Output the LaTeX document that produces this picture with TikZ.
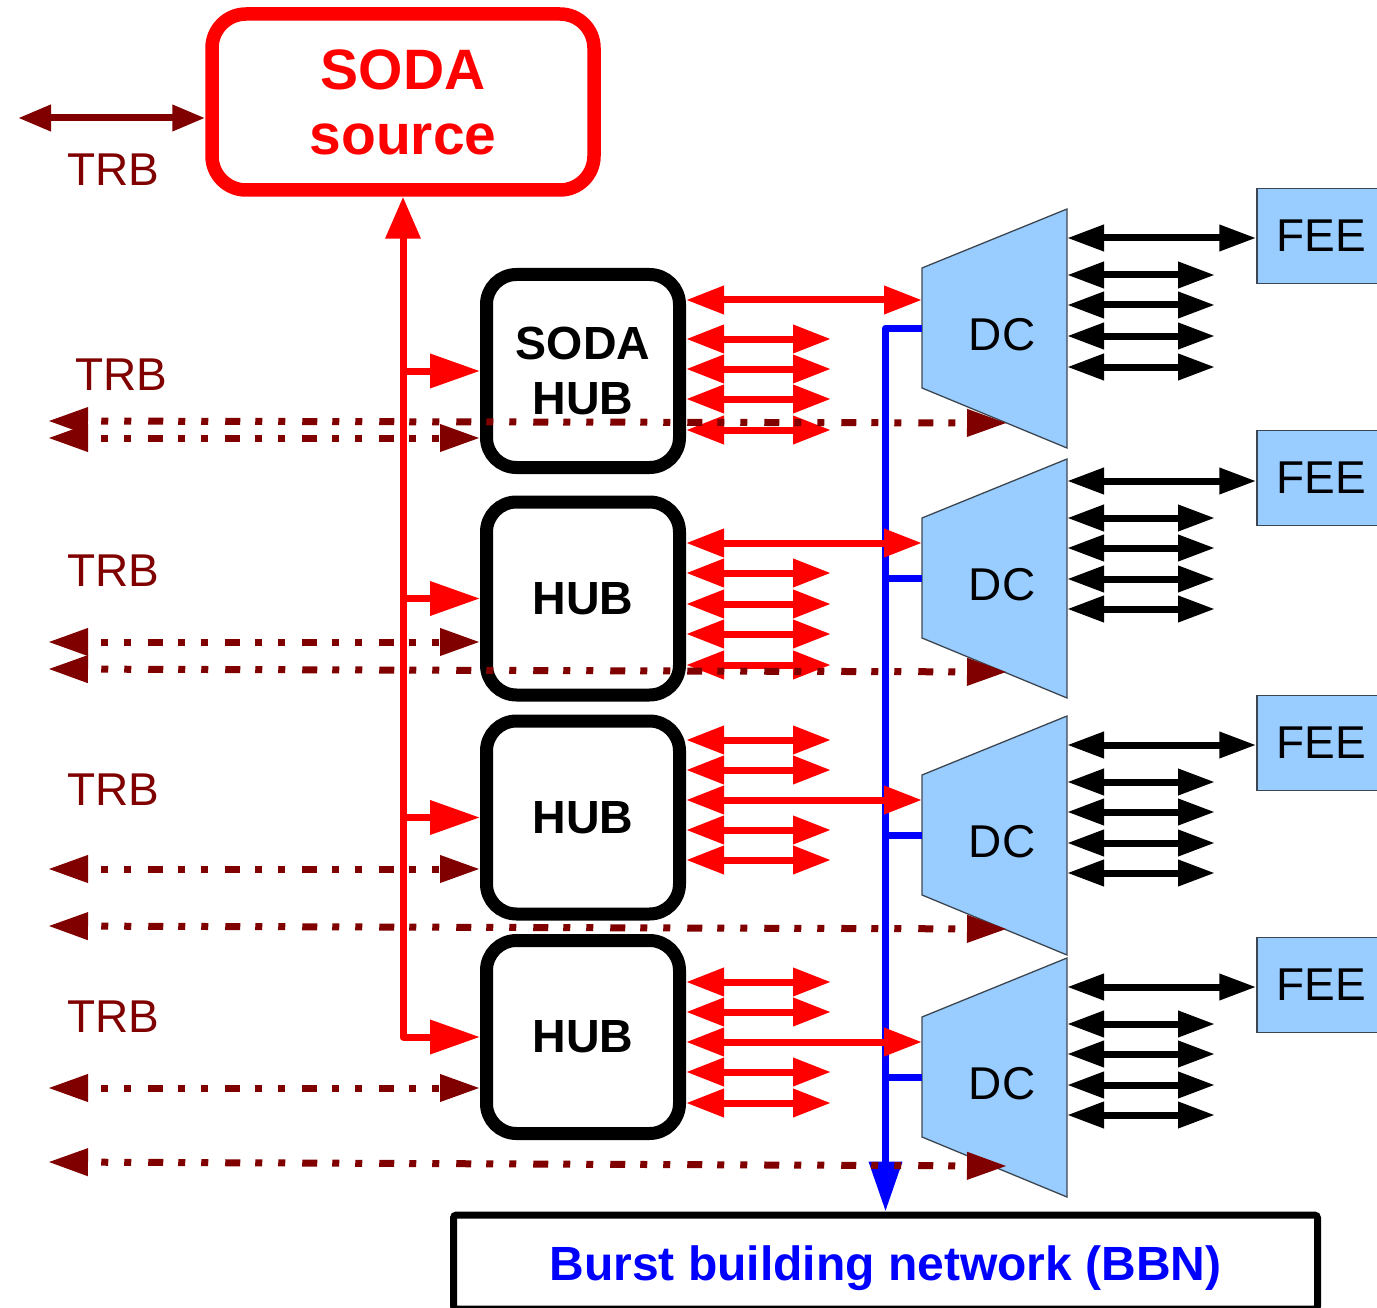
\documentclass[tikz,border=0pt]{standalone}
\usepackage{fontspec}
\setmainfont{Liberation Sans}
\usetikzlibrary{arrows.meta}
\definecolor{dred}{HTML}{800000}
\definecolor{lblue}{HTML}{99CCFF}
\definecolor{edgegray}{HTML}{3C4650}
\begin{document}
\begin{tikzpicture}[x=1pt,y=-1pt,
  sodabox/.style={draw=red, line width=13.5pt, rounded corners=34pt, minimum width=382pt, minimum height=176pt, inner sep=0pt, outer sep=6.75pt, align=center, text=red, font=\fontsize{57}{65}\selectfont\bfseries},
  hubbox/.style={draw=black, fill=white, line width=13pt, rounded corners=30pt, minimum width=193pt, minimum height=193pt, inner sep=0pt, outer sep=6.5pt, align=center, font=\fontsize{46.5}{55}\selectfont\bfseries},
  feebox/.style={draw=edgegray, fill=lblue, line width=1.5pt, minimum width=128pt, minimum height=95pt, inner sep=0pt, outer sep=0.75pt, font=\fontsize{46}{55}\selectfont},
  dcshape/.style={draw=edgegray, fill=lblue, line width=1.3pt},
  dctext/.style={inner sep=0pt, font=\fontsize{46}{55}\selectfont},
  trblabel/.style={inner sep=0pt, text=dred, font=\fontsize{46}{55}\selectfont},
  bbnbox/.style={draw=black, line width=7pt, rounded corners=3pt, minimum width=864pt, minimum height=94pt, inner sep=0pt, outer sep=3.5pt},
  bbntext/.style={inner sep=0pt, text=blue, font=\fontsize{48}{55}\selectfont\bfseries},
  redarr/.style={draw=red, line width=7pt, {Triangle[length=38pt,width=27pt]}-{Triangle[length=38pt,width=27pt]}},
  redtree/.style={draw=red, line width=7pt, line join=round},
  blkarr/.style={draw=black, line width=7pt, {Triangle[length=37pt,width=25pt]}-{Triangle[length=37pt,width=25pt]}},
  blueline/.style={draw=blue, line width=7pt, line join=round},
  dashline/.style={draw=dred, line width=7pt, dash pattern=on 7pt off 16pt on 7pt off 17pt on 15pt off 15pt, dash phase=62pt},
  dtip/.style={{Triangle[length=40pt,width=26pt]}-{Triangle[length=40pt,width=26pt]}}
]
\useasboundingbox (0,0) rectangle (1377,1308);

% ---------- DC units, FEE boxes and their links ----------
% \i / top of DC / FEE centre / long-link y / short-link ys
\foreach \i/\T/\F/\L/\sa/\sb/\sc/\sd in {1/209/236/238/275/305/336/367,
                                      2/459/478/481/518/548/579/609,
                                      3/716/743/745/782/812/843/873,
                                      4/958/985/987/1024/1054/1085/1115}{
  \coordinate (dc\i nw) at (922,\T+59);
  \coordinate (dc\i sw) at (922,\T+179);
  \coordinate (dc\i ne) at (1067,\T);
  \coordinate (dc\i se) at (1067,\T+239);
  \path[dcshape] (dc\i nw) -- (dc\i ne) -- (dc\i se) -- (dc\i sw) -- cycle;
  \node[dctext] (dc\i) at (1002,\T+126) {DC};
  \node[feebox] (fee\i) at (1321,\F) {FEE};
  \draw[blkarr] (dc\i ne |- 0,\L) -- (fee\i.west |- 0,\L);
  \foreach \y in {\sa,\sb,\sc,\sd}{
    \draw[blkarr] (dc\i ne |- 0,\y) -- ++(148,0);
  }
}

% ---------- BBN ----------
\node[bbnbox] (bbn) at (885.5,1262) {};
\node[bbntext, anchor=base] (bbnt) at (885.5,1280) {Burst building network (BBN)};

% ---------- blue output lines ----------
\draw[blueline, -{Triangle[length=50pt,width=32pt]}] (dc1nw |- 0,328) -| (bbn.north);
\draw[blueline] (dc2nw |- 0,578) -- (bbn.north |- 0,578);
\draw[blueline] (dc3nw |- 0,835) -- (bbn.north |- 0,835);
\draw[blueline] (dc4nw |- 0,1077) -- (bbn.north |- 0,1077);

% ---------- SODA source and hubs ----------
\node[sodabox] (soda) at (403,102) {SODA\\source};
\node[hubbox] (hub1) at (583,371) {SODA\\HUB};
\node[hubbox] (hub2) at (583,598.5) {HUB};
\node[hubbox] (hub3) at (583,817.5) {HUB};
\node[hubbox] (hub4) at (583,1037) {HUB};

% ---------- red links hub -> DC ----------
\draw[redarr] (hub1.east |- 0,300) -- (dc1nw |- 0,300);
\foreach \y in {339,369,399,430} \draw[redarr] (hub1.east |- 0,\y) -- ++(145,0);
\draw[redarr] (hub2.east |- 0,543) -- (dc2nw |- 0,543);
\foreach \y in {573,604,634,665} \draw[redarr] (hub2.east |- 0,\y) -- ++(145,0);
\draw[redarr] (hub3.east |- 0,800) -- (dc3nw |- 0,800);
\foreach \y in {740,770,830,860} \draw[redarr] (hub3.east |- 0,\y) -- ++(145,0);
\draw[redarr] (hub4.east |- 0,1042) -- (dc4nw |- 0,1042);
\foreach \y in {982,1012,1072,1103} \draw[redarr] (hub4.east |- 0,\y) -- ++(145,0);

% ---------- TRB dash-dot links ----------
\coordinate (l1a) at (48,421);  \coordinate (r1a) at (1007,423);
\coordinate (l1b) at (48,438);
\coordinate (l2a) at (48,642);
\coordinate (l2b) at (48,669);  \coordinate (r2b) at (1007,672);
\coordinate (l3a) at (48,869);
\coordinate (l3b) at (48,926);  \coordinate (r3b) at (1007,929);
\coordinate (l4a) at (48,1088);
\coordinate (l4b) at (48,1162); \coordinate (r4b) at (1007,1166);

\draw[dashline, dtip] (l1a) -- (r1a);
\draw[dashline, dtip] (l1b) -- (hub1.west |- l1b);
\draw[dashline, dtip] (l2a) -- (hub2.west |- l2a);
\draw[dashline, dtip] (l2b) -- (r2b);
\draw[dashline, dtip] (l3a) -- (hub3.west |- l3a);
\draw[dashline, dtip] (l3b) -- (r3b);
\draw[dashline, dtip] (l4a) -- (hub4.west |- l4a);
\draw[dashline, dtip] (l4b) -- (r4b);

% ---------- red SODA distribution tree ----------
\draw[redtree, {Triangle[length=42pt,width=34pt]}-{Triangle[length=50pt,width=33pt]}] (soda.south) |- (hub4.west);
\foreach \h in {1,2,3} \draw[redtree, -{Triangle[length=50pt,width=33pt]}] (soda.south |- hub\h.west) -- (hub\h.west);

% ---------- TRB link of the source ----------
\coordinate (trb0) at (18,118);
\draw[draw=dred, line width=7pt, {Triangle[length=33pt,width=25pt]}-{Triangle[length=33pt,width=25pt]}] (trb0) -- (soda.west |- trb0);

% ---------- TRB labels ----------
\node[trblabel] (t0) at (113,170) {TRB};
\node[trblabel] (t1) at (121,375) {TRB};
\node[trblabel] (t2) at (113,571) {TRB};
\node[trblabel] (t3) at (113,790) {TRB};
\node[trblabel] (t4) at (113,1017) {TRB};
\end{tikzpicture}
\end{document}
